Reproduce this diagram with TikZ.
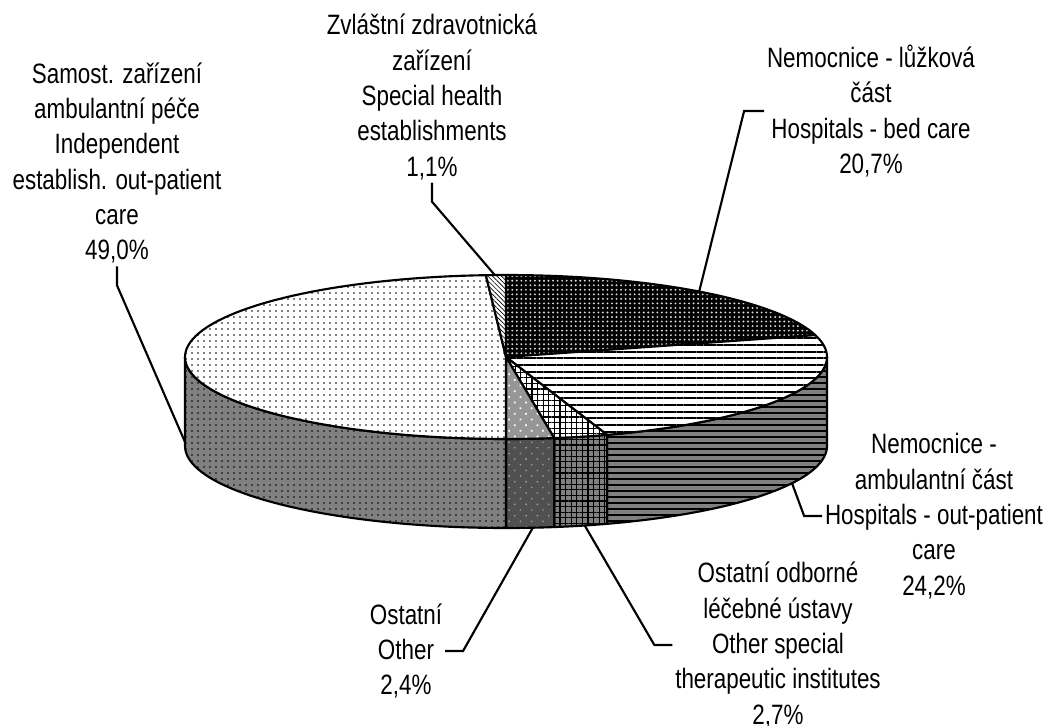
\documentclass[tikz,border=0pt]{standalone}
\usepackage{fontspec}
\setmainfont[FakeStretch=0.80]{Liberation Sans}
\usetikzlibrary{patterns.meta,calc}

\definecolor{sidegray}{RGB}{128,128,128}
\definecolor{darkside}{RGB}{80,80,80}
\definecolor{midgray}{RGB}{150,150,150}

% pie geometry (pixel units)
\def\pcx{506}
\def\pcy{357}
\def\prx{321}
\def\pry{82}
\def\pdep{89}

\tikzset{
  lbl/.style={align=center, font=\fontsize{21}{26.5}\selectfont, inner sep=2pt},
  conn/.style={line width=1.6pt},
  rim/.style={draw, line width=1.6pt, line join=round},
  bedTop/.style={preaction={fill=black}, pattern={Dots[radius=0.8pt,distance=3.4pt]}, pattern color=white!85!black},
  outTop/.style={preaction={fill=white}, pattern={Lines[distance=5pt,line width=1.6pt]}, pattern color=black},
  outSide/.style={preaction={fill=sidegray}, pattern={Lines[distance=4.5pt,line width=1.4pt]}, pattern color=black},
  gridTop/.style={preaction={fill=white}, pattern={Hatch[distance=4.2pt,line width=0.9pt]}, pattern color=black},
  gridSide/.style={preaction={fill=sidegray}, pattern={Hatch[distance=4.2pt,line width=0.9pt]}, pattern color=black},
  othTop/.style={preaction={fill=midgray}, pattern={Dots[radius=0.9pt,distance=6pt,angle=45]}, pattern color=white},
  othSide/.style={preaction={fill=darkside}, pattern={Dots[radius=0.7pt,distance=6pt,angle=45]}, pattern color=gray!70},
  samTop/.style={preaction={fill=white}, pattern={Dots[radius=0.6pt,distance=4.5pt]}, pattern color=black},
  samSide/.style={preaction={fill=sidegray}, pattern={Dots[radius=0.6pt,distance=4.5pt]}, pattern color=black},
  specTop/.style={preaction={fill=white}, pattern={Lines[angle=-45,distance=2.4pt,line width=0.5pt]}, pattern color=black}
}

\begin{document}
\begin{tikzpicture}[x=0.75pt, y=-0.75pt]
  \useasboundingbox (0,0) rectangle (1055,725);

  % side of the pie
  \path[outSide, rim] plot[domain=0:-71.64, samples=40] ({\pcx+\prx*cos(\x)},{\pcy-\pry*sin(\x)})
    -- plot[domain=-71.64:0, samples=40] ({\pcx+\prx*cos(\x)},{\pcy+\pdep-\pry*sin(\x)}) -- cycle;
  \path[gridSide, rim] plot[domain=-71.64:-81.36, samples=10] ({\pcx+\prx*cos(\x)},{\pcy-\pry*sin(\x)})
    -- plot[domain=-81.36:-71.64, samples=10] ({\pcx+\prx*cos(\x)},{\pcy+\pdep-\pry*sin(\x)}) -- cycle;
  \path[othSide, rim] plot[domain=-81.36:-90, samples=10] ({\pcx+\prx*cos(\x)},{\pcy-\pry*sin(\x)})
    -- plot[domain=-90:-81.36, samples=10] ({\pcx+\prx*cos(\x)},{\pcy+\pdep-\pry*sin(\x)}) -- cycle;
  \path[samSide, rim] plot[domain=-90:-180, samples=50] ({\pcx+\prx*cos(\x)},{\pcy-\pry*sin(\x)})
    -- plot[domain=-180:-90, samples=50] ({\pcx+\prx*cos(\x)},{\pcy+\pdep-\pry*sin(\x)}) -- cycle;

  % top of the pie
  \path[bedTop, rim] (\pcx,\pcy) -- plot[domain=90:15.48, samples=40] ({\pcx+\prx*cos(\x)},{\pcy-\pry*sin(\x)}) -- cycle;
  \path[outTop, rim] (\pcx,\pcy) -- plot[domain=15.48:-71.64, samples=40] ({\pcx+\prx*cos(\x)},{\pcy-\pry*sin(\x)}) -- cycle;
  \path[gridTop, rim] (\pcx,\pcy) -- plot[domain=-71.64:-81.36, samples=10] ({\pcx+\prx*cos(\x)},{\pcy-\pry*sin(\x)}) -- cycle;
  \path[othTop, rim] (\pcx,\pcy) -- plot[domain=-81.36:-90, samples=10] ({\pcx+\prx*cos(\x)},{\pcy-\pry*sin(\x)}) -- cycle;
  \path[samTop, rim] (\pcx,\pcy) -- plot[domain=-90:-266.4, samples=80] ({\pcx+\prx*cos(\x)},{\pcy-\pry*sin(\x)}) -- cycle;
  \path[specTop, rim] (\pcx,\pcy) -- plot[domain=-266.4:-270, samples=5] ({\pcx+\prx*cos(\x)},{\pcy-\pry*sin(\x)}) -- cycle;

  % where the leaders touch the pie
  \coordinate (pBed) at ({\pcx+\prx*cos(53)},{\pcy-\pry*sin(53)});
  \coordinate (pSpec) at ({\pcx+\prx*cos(92)},{\pcy-\pry*sin(92)});
  \coordinate (pSam) at (185,442);
  \coordinate (pOut) at ({\pcx+\prx*cos(-27)},{\pcy+\pdep-\pry*sin(-27)});
  \coordinate (pInst) at ({\pcx+\prx*cos(-75.8)},{\pcy+\pdep-\pry*sin(-75.8)});
  \coordinate (pOth) at ({\pcx+\prx*cos(-85.2)},{\pcy+\pdep-\pry*sin(-85.2)});

  % labels
  \node[lbl] (lSpec) at (432,97) {Zvláštní zdravotnická\\zařízení\\Special health\\establishments\\1,1\%};
  \node[lbl] (lSam) at (117,163) {Samost. zařízení\\ambulantní péče\\Independent\\establish. out-patient\\care\\49,0\%};
  \node[lbl] (lBed) at (871,111) {Nemocnice - lůžková\\část\\Hospitals - bed care\\20,7\%};
  \node[lbl] (lOut) at (934,516) {Nemocnice -\\ambulantní část\\Hospitals - out-patient\\care\\24,2\%};
  \node[lbl] (lInst) at (778,645) {Ostatní odborné\\léčebné ústavy\\Other special\\therapeutic institutes\\2,7\%};
  \node[lbl] (lOth) at (406,651) {Ostatní\\Other\\2,4\%};

  % leaders
  \draw[conn] (pSpec) -- ($(lSpec.south)+(0,19)$) -- (lSpec.south);
  \draw[conn] (pSam) -- ($(lSam.south)+(0,19)$) -- (lSam.south);
  \draw[conn] (pBed) -- ($(lBed.west)+(-20,0)$) -- (lBed.west);
  \draw[conn] (pOut) -- ($(lOut.west)+(-18,0)$) -- (lOut.west);
  \draw[conn] (pInst) -- ($(lInst.west)+(-18,0)$) -- (lInst.west);
  \draw[conn] (pOth) -- ($(lOth.east)+(18,0)$) -- (lOth.east);
\end{tikzpicture}
\end{document}
